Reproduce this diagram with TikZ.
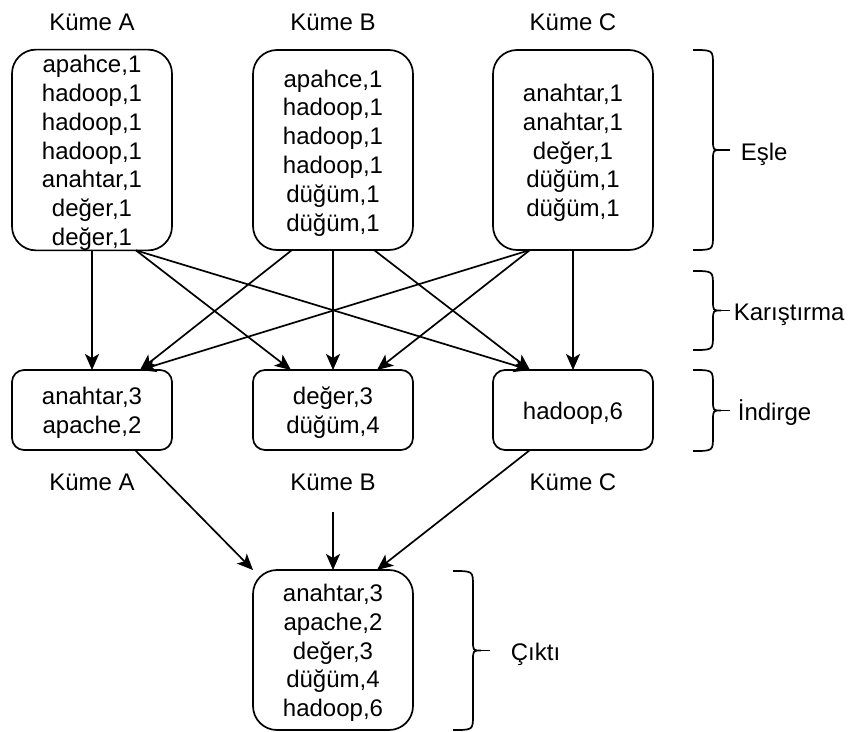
\documentclass[tikz,border=0pt]{standalone}
\usepackage{fontspec}
\setmainfont{Liberation Sans}
\usetikzlibrary{arrows.meta}
\newcommand\tstrut{\rule{0pt}{23pt}}
\newcommand\curlybr[4]{%
 \pgfmathsetmacro\cbm{(#2+#3)/2}%
 \pgfmathsetmacro\cbx{#1+20}%
 \pgfmathsetmacro\cbt{#1+28}%
 \pgfmathsetmacro\cba{#2+15}%
 \pgfmathsetmacro\cbb{\cbm-10}%
 \pgfmathsetmacro\cbc{\cbm+10}%
 \pgfmathsetmacro\cbd{#3-15}%
 \draw[brace] (#1,#2) .. controls (\cbx,#2) .. (\cbx,\cba) -- (\cbx,\cbb) .. controls (\cbx,\cbm) .. (\cbt,\cbm) .. controls (\cbx,\cbm) .. (\cbx,\cbc) -- (\cbx,\cbd) .. controls (\cbx,#3) .. (#1,#3);
 \draw[brace] (\cbt,\cbm) -- (#4,\cbm);
}
\begin{document}
\begin{tikzpicture}[x=1pt,y=-1pt,
 line width=1.7pt,
 txt/.style={font=\fontsize{24}{28.8}\selectfont},
 box/.style={draw, line width=1.7pt, rounded corners=24pt, minimum width=160pt, inner sep=0pt, outer sep=0pt, align=center, txt},
 mapbox/.style={box, minimum height=200pt},
 redbox/.style={box, rounded corners=12pt, minimum height=80pt},
 outbox/.style={box, minimum height=160pt},
 lbl/.style={txt, inner sep=0pt, anchor=base},
 side/.style={txt, inner sep=0pt, anchor=base west},
 arr/.style={-{Stealth[length=16pt,width=14pt,inset=4pt]}, line width=1.7pt},
 brace/.style={line width=1.7pt},
]
\useasboundingbox (0,0) rectangle (848,731);

% cluster labels (top)
\node[lbl] (tA) at (92,30) {Küme A};
\node[lbl] (tB) at (333,30) {Küme B};
\node[lbl] (tC) at (573,30) {Küme C};

% map boxes
\node[mapbox] (mA) at (92,150) {\tstrut apahce,1\\hadoop,1\\hadoop,1\\hadoop,1\\anahtar,1\\değer,1\\değer,1};
\node[mapbox] (mB) at (333,150) {\tstrut apahce,1\\hadoop,1\\hadoop,1\\hadoop,1\\düğüm,1\\düğüm,1};
\node[mapbox] (mC) at (573,150) {\tstrut anahtar,1\\anahtar,1\\değer,1\\düğüm,1\\düğüm,1};

% reduce boxes
\node[redbox] (rA) at (92,410) {\tstrut anahtar,3\\apache,2};
\node[redbox] (rB) at (333,410) {\tstrut değer,3\\düğüm,4};
\node[redbox] (rC) at (573,410) {\tstrut hadoop,6};

% lower labels
\node[lbl] (bA) at (92,490) {Küme A};
\node[lbl] (bB) at (333,490) {Küme B};
\node[lbl] (bC) at (573,490) {Küme C};

% output box
\node[outbox] (out) at (333,650) {\tstrut anahtar,3\\apache,2\\değer,3\\düğüm,4\\hadoop,6};

% shuffle arrows
\draw[arr] (mA.south) -- (rA.north);
\draw[arr] ([xshift=44pt]mA.south) -- ([xshift=-42pt]rB.north);
\draw[arr] ([xshift=44pt]mA.south) -- ([xshift=-43pt]rC.north);
\draw[arr] ([xshift=-41pt]mB.south) -- ([xshift=48pt]rA.north);
\draw[arr] (mB.south) -- (rB.north);
\draw[arr] ([xshift=41pt]mB.south) -- ([xshift=-43pt]rC.north);
\draw[arr] ([xshift=-43pt]mC.south) -- ([xshift=48pt]rA.north);
\draw[arr] ([xshift=-43pt]mC.south) -- ([xshift=44pt]rB.north);
\draw[arr] (mC.south) -- (rC.north);

% output arrows
\coordinate (kb) at (333,512);
\draw[arr] ([xshift=43pt]rA.south) -- (out.north west);
\draw[arr] (kb) -- (out.north);
\draw[arr] ([xshift=-43pt]rC.south) -- ([xshift=44pt]out.north);

% braces
\curlybr{693}{50}{250}{730}
\curlybr{693}{271}{350}{730}
\curlybr{693}{370}{451}{730}
\curlybr{453}{571}{730}{490}

\node[side] (sEsle) at (740,160) {Eşle};
\node[side] (sKar) at (733,320) {Karıştırma};
\node[side] (sInd) at (737,420) {İndirge};
\node[side] (sOut) at (510,660) {Çıktı};
\end{tikzpicture}
\end{document}
